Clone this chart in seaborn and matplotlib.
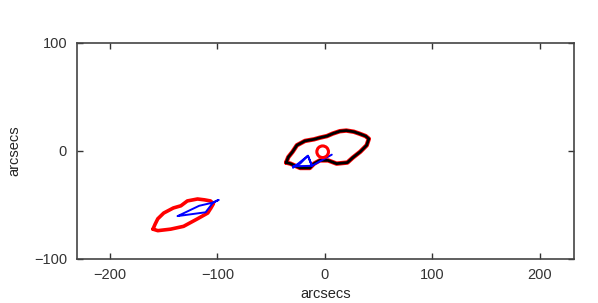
import numpy as np
import matplotlib
matplotlib.use("Agg")
import matplotlib.pyplot as plt
import pandas as pd
import seaborn as sns

sns.set_style("ticks")
plt.rcParams.update({
    "font.family": ["Liberation Sans", "DejaVu Sans"],
    "font.size": 10.5,
    "axes.edgecolor": "#444444",
    "axes.linewidth": 1.2,
    "xtick.color": "#333333", "ytick.color": "#333333",
    "figure.facecolor": "white", "axes.facecolor": "white",
})

# Outer contour around the central source (black, with red drawn beneath)
core_x = [-36, -34, -30, -26, -18.5, -10, -4.6, 2, 7.4, 14, 20, 27, 32, 38, 41, 39, 33, 26, 21, 11, 3, -4.6, -10, -14, -23, -32, -36]
core_y = [-11, -6, -1, 5, 9, 10.5, 12, 13.5, 15.8, 18, 18.6, 17.5, 15.8, 13.5, 11, 5, -1, -6.5, -11, -12, -9, -9, -12, -16, -16, -12, -11]

# Lower-left contour (red)
lobe_x = [-160, -158, -155.5, -150, -141, -134, -128, -118.5, -112, -106.5, -103.7, -106, -109, -118.5, -131.5, -143.5, -155.5, -160]
lobe_y = [-72.6, -68, -63, -57.7, -53, -51, -46.5, -44.7, -45.5, -46.5, -49, -53, -57.7, -63, -70, -72.6, -74, -72.6]

# Blue tracks
core_blue_x = [-29.6, -15.7, -12, -29.6, -23, -15.7, -12, 6.5]
core_blue_y = [-15.8, -4.7, -14, -14.5, -12, -4.7, -14, -3.7]
lobe_blue_x = [-137, -117, -104, -99, -104, -111, -137]
lobe_blue_y = [-60.5, -51, -48, -45.6, -48, -57, -60.5]

# Marker position (red circle)
marker_x = [-2]
marker_y = [-1]

fig = plt.figure(figsize=(5.98, 3.03), dpi=100)
ax = fig.add_axes([0.1283, 0.146, 0.8315, 0.7135])

core = pd.DataFrame({"x": core_x, "y": core_y})
lobe = pd.DataFrame({"x": lobe_x, "y": lobe_y})

sns.lineplot(data=core, x="x", y="y", sort=False, estimator=None, color="red", linewidth=3.2, ax=ax)
sns.lineplot(data=core, x="x", y="y", sort=False, estimator=None, color="black", linewidth=2.0, ax=ax)
sns.lineplot(data=lobe, x="x", y="y", sort=False, estimator=None, color="red", linewidth=2.6, ax=ax)
sns.lineplot(x=core_blue_x, y=core_blue_y, sort=False, estimator=None, color="blue", linewidth=1.4, ax=ax)
sns.lineplot(x=lobe_blue_x, y=lobe_blue_y, sort=False, estimator=None, color="blue", linewidth=1.4, ax=ax)
ax.scatter(marker_x, marker_y, s=70, facecolors="none", edgecolors="red", linewidths=2.2, zorder=5)

ax.set_xlim(-231, 232)
ax.set_ylim(-100, 100)
ax.set_xticks([-200, -100, 0, 100, 200])
ax.set_yticks([-100, 0, 100])
ax.tick_params(direction="in", length=4, width=1, top=True, right=True, labelsize=10.5, pad=7)
ax.set_xlabel("arcsecs", labelpad=3)
ax.set_ylabel("arcsecs", labelpad=9)

plt.savefig("out.png", dpi=100)
plt.close()
